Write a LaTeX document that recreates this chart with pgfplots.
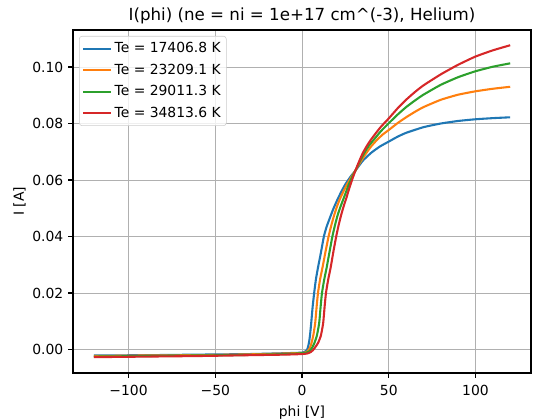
\documentclass[border=0pt]{standalone}
\usepackage{fontspec}
\setmainfont{DejaVu Sans}
\usepackage{pgfplots}
\pgfplotsset{compat=1.18}
\definecolor{mplblue}{HTML}{1F77B4}
\definecolor{mplorange}{HTML}{FF7F0E}
\definecolor{mplgreen}{HTML}{2CA02C}
\definecolor{mplred}{HTML}{D62728}
\definecolor{mplgrid}{HTML}{B0B0B0}

\begin{document}
\begin{tikzpicture}[font=\fontsize{10bp}{12bp}\selectfont]
\begin{axis}[
    name=ax,
    scale only axis,
    width=329.8bp,
    height=247bp,
    xmin=-132, xmax=132,
    ymin=-0.0083, ymax=0.1131,
    xtick={-100,-50,0,50,100},
    xticklabels={−100,−50,0,50,100},
    ytick={0,0.02,0.04,0.06,0.08,0.10},
    yticklabels={0.00,0.02,0.04,0.06,0.08,0.10},
    scaled y ticks=false,
    xtick pos=bottom, ytick pos=left,
    tick align=outside,
    major tick length=3.5bp,
    tick style={black, line width=0.8bp},
    axis line style={black, line width=0.8bp},
    grid=major,
    major grid style={mplgrid, line width=0.58bp},
    xticklabel style={yshift=-2bp},
    xlabel={phi [V]},
    ylabel={I [A]},
    ylabel style={yshift=-2bp},
    legend cell align=left,
    legend style={at={(0,1)}, anchor=north west, xshift=4.3bp, yshift=-4.3bp,
        draw=black!20, rounded corners=2bp, fill=white, fill opacity=0.8,
        text opacity=1, inner xsep=2bp, inner ysep=2.5bp, row sep=2.6bp,
        font=\fontsize{10bp}{12bp}\selectfont},
    legend image code/.code={\draw[#1] (0bp,0bp) -- (20bp,0bp);},
    every axis plot/.append style={line width=1.5bp, smooth, tension=0.3},
]
\addplot[mplblue] coordinates {
(-120,-0.0021) (-90,-0.0020) (-60,-0.0018) (-30,-0.0016) (-10,-0.0013) (0,-0.0011)
(1.5,-0.0008) (2.5,-0.0004) (3.2,0.0003) (4.0,0.0024) (4.6,0.0050) (5.3,0.0094)
(6.1,0.0150) (7,0.020) (8,0.0248) (9.2,0.029) (10.8,0.0340) (12.6,0.040) (14.2,0.0435)
(16,0.0465) (18,0.0497) (20,0.0525) (22.5,0.0557) (25,0.0585) (28,0.0612)
(31,0.0635) (35,0.0668) (40,0.0697) (45,0.0719) (50,0.0736) (55,0.0753) (60,0.0767)
(70,0.0787) (80,0.0800) (90,0.0809) (100,0.0815) (110,0.0819) (120,0.0822)
};
\addlegendentry{Te = 17406.8 K}
\addplot[mplorange] coordinates {
(-120,-0.0023) (-90,-0.0021) (-60,-0.0020) (-30,-0.0017) (-10,-0.0014) (0,-0.0012)
(2,-0.0010) (3.2,-0.0006) (4.0,0.0000) (4.7,0.0008) (5.5,0.0024) (6.5,0.0050)
(7.6,0.0094) (8.4,0.0150) (9.2,0.020) (10.4,0.0248) (11.8,0.029) (13.5,0.0345)
(15.3,0.040) (16.9,0.0440) (18.5,0.0475) (20.2,0.0507) (22,0.0535) (24,0.0561)
(26,0.0585) (28.5,0.0611) (31,0.0636) (34,0.0667) (37,0.0695) (40,0.0720)
(43.2,0.0742) (46.5,0.0761) (50,0.0777) (55,0.0801) (60,0.0822) (65,0.0841)
(70,0.0858) (80,0.0884) (90,0.0902) (100,0.0914) (110,0.0923) (120,0.0930)
};
\addlegendentry{Te = 23209.1 K}
\addplot[mplgreen] coordinates {
(-120,-0.0025) (-90,-0.0023) (-60,-0.0021) (-30,-0.0019) (-10,-0.0016) (0,-0.0013)
(2.5,-0.0011) (4.0,-0.0007) (5.0,-0.0001) (6.0,0.0008) (7.2,0.0024) (8.6,0.0050)
(9.9,0.0094) (10.7,0.0150) (11.5,0.020) (12.8,0.0248) (14.2,0.029) (15.9,0.0347)
(17.5,0.040) (19,0.0440) (20.5,0.0475) (22.2,0.0506) (24,0.0535) (25.5,0.0560)
(27,0.0585) (29,0.0612) (31,0.0636) (33.5,0.0668) (36,0.0697) (38.5,0.0721)
(41.3,0.0742) (45.5,0.0773) (50,0.0801) (55,0.0831) (60,0.0858) (65,0.0881)
(70,0.0902) (80,0.0937) (90,0.0964) (100,0.0985) (110,0.1001) (120,0.1013)
};
\addlegendentry{Te = 29011.3 K}
\addplot[mplred] coordinates {
(-120,-0.0027) (-90,-0.0025) (-60,-0.0023) (-30,-0.0020) (-10,-0.0018) (0,-0.0016)
(3,-0.0014) (5.0,-0.0009) (6.2,-0.0003) (7.5,0.0007) (9.3,0.0024) (10.9,0.0050)
(12.2,0.0094) (13.0,0.0150) (13.8,0.020) (15.1,0.0248) (16.5,0.029) (18.1,0.0347)
(19.7,0.040) (21.1,0.0440) (22.5,0.0475) (24,0.0507) (25.5,0.0535) (26.7,0.0560)
(28,0.0585) (29.5,0.0612) (31,0.0637) (33,0.0667) (35,0.0695) (37.5,0.0722)
(40,0.0745) (45,0.0785) (50,0.0818) (55,0.0853) (60,0.0884) (65,0.0911)
(70,0.0935) (80,0.0974) (90,0.1008) (100,0.1037) (110,0.1059) (120,0.1077)
};
\addlegendentry{Te = 34813.6 K}
\end{axis}
\node[anchor=base, inner sep=0pt, font=\fontsize{12bp}{14bp}\selectfont]
    at ([yshift=6.5bp]ax.north) {I(phi) (ne = ni = 1e+17 cm\textasciicircum(-3), Helium)};
\pgfresetboundingbox
\path ([xshift=-52.6bp,yshift=-33.1bp]ax.south west) rectangle ([xshift=3.6bp,yshift=21.6bp]ax.north east);
\end{tikzpicture}
\end{document}
